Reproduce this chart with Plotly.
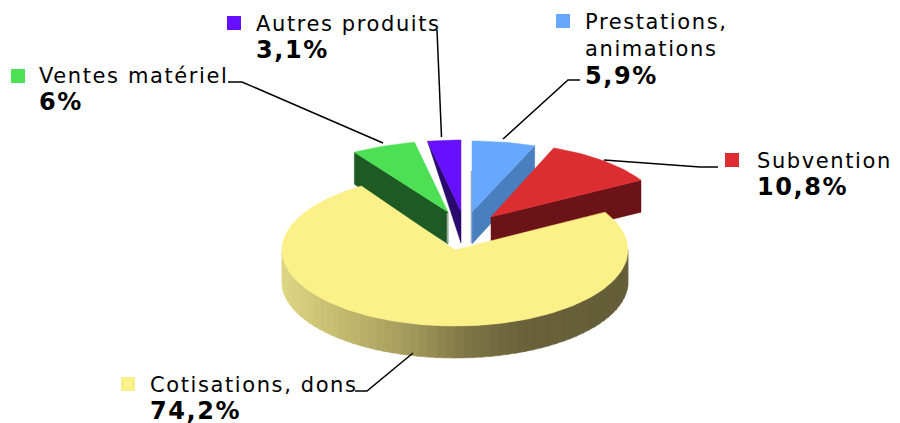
import math
import plotly.graph_objects as go

# Data
labels = ["Prestations,<br>animations", "Subvention", "Cotisations, dons", "Ventes matériel", "Autres produits"]
values = [5.9, 10.8, 74.2, 6.0, 3.1]

# Styles
top_colors = ["#66a8ff", "#dc2d30", "#fcf088", "#4de055", "#6610ff"]
wall_colors = ["#4a7fbf", "#6b1316", None, "#1e5a24", "#2a0a6e"]
offsets = [(17, -38), (36, -33), (0, 0), (-7, -38), (6, -39)]
slice_ry = [71, 74, 76, 71, 71]
wall_rim_depth = [30, 32, 0, 32, 0]
draw_order = [3, 4, 0, 1]

CX, CY, RX, DEPTH = 455, 250, 173, 32


def pt(deg, ox=0, oy=0, ry=76, dy=0):
    a = math.radians(deg)
    return CX + ox + RX * math.sin(a), CY + oy - ry * math.cos(a) + dy


def arc(a0, a1, ox=0, oy=0, ry=76, dy=0):
    n = max(2, int(abs(a1 - a0) / 1.5))
    return [pt(a0 + (a1 - a0) * i / n, ox, oy, ry, dy) for i in range(n + 1)]


def poly(points, color, lw=0.5):
    xs = [p[0] for p in points] + [points[0][0]]
    ys = [p[1] for p in points] + [points[0][1]]
    return go.Scatter(x=xs, y=ys, mode="lines", fill="toself", fillcolor=color,
                      line=dict(color=color, width=lw), hoverinfo="skip", showlegend=False)


def lerp_color(x):
    stops = [(282, (222, 214, 132)), (350, (192, 182, 108)), (415, (160, 150, 90)),
             (470, (125, 116, 68)), (525, (104, 97, 58)), (628, (100, 94, 56))]
    for (x0, c0), (x1, c1) in zip(stops, stops[1:]):
        if x <= x1:
            t = max(0, (x - x0) / (x1 - x0))
            return "rgb(%d,%d,%d)" % tuple(round(a + (b - a) * t) for a, b in zip(c0, c1))
    return "rgb(100,94,56)"


edges = [0]
for v in values:
    edges.append(edges[-1] + v / sum(values) * 360)

fig = go.Figure()

for i in draw_order:
    a0, a1 = edges[i], edges[i + 1]
    ox, oy = offsets[i]
    ry = slice_ry[i]
    apex = (CX + ox, CY + oy)
    apex_low = (apex[0], apex[1] + DEPTH)
    wall_angle = a1 if i in (0, 1) else a0
    rim = pt(wall_angle, ox, oy, ry)
    rim_low = (rim[0], rim[1] + wall_rim_depth[i])
    fig.add_trace(poly([apex, rim, rim_low, apex_low], wall_colors[i]))
    fig.add_trace(poly([apex] + arc(a0, a1, ox, oy, ry), top_colors[i]))

# thin lit edges of the exploded wedges
for i, shade, y0 in [(0, "#8fa9cc", 171), (3, "#9db09a", 213)]:
    ox, oy = offsets[i]
    fig.add_trace(go.Scatter(x=[CX + ox - 0.5, CX + ox - 0.5], y=[y0, CY + oy + DEPTH - 1], mode="lines",
                             line=dict(color=shade, width=1.5), hoverinfo="skip", showlegend=False))

# main slice side with shading
step = 3
for d in range(90, 270, step):
    pts = arc(d, d + step + 0.5) + arc(d + step + 0.5, d, dy=DEPTH)
    x_mid = pt(d + step / 2)[0]
    fig.add_trace(poly(pts, lerp_color(x_mid)))

a0, a1 = edges[2], edges[3]
fig.add_trace(poly([(CX, CY)] + arc(a0, a1), top_colors[2]))

# leader lines
leaders = [
    ([503, 568, 580], [139, 80, 80]),
    ([604, 700, 718], [160, 167, 167]),
    ([355, 367, 413], [391, 391, 353]),
    ([228, 242, 383], [82, 82, 143]),
    ([437, 441.5], [30, 137]),
]
for lx, ly in leaders:
    fig.add_trace(go.Scatter(x=lx, y=ly, mode="lines", line=dict(color="#000000", width=1.5),
                             hoverinfo="skip", showlegend=False))

# legend squares and texts
swatch_x = [563, 732, 128, 18, 234]
swatch_y = [21, 160, 384, 76, 23]
text_x = [584, 756, 149, 38, 255]
text_y = [9, 148, 372, 63, 11]
for i, lab in enumerate(labels):
    fig.add_trace(go.Scatter(x=[swatch_x[i]], y=[swatch_y[i]], mode="markers",
                             marker=dict(symbol="square", size=14, color=top_colors[i], line=dict(width=0)),
                             hoverinfo="skip", showlegend=False))
    pct = f"{values[i]:g}".replace(".", ",") + "%"
    fig.add_annotation(x=text_x[i], y=text_y[i], xref="x", yref="y", xanchor="left", yanchor="top",
                       align="left", showarrow=False,
                       text=f"{lab}<br><b><span style=\"font-size:24px\">{pct}</span></b>",
                       font=dict(family="DejaVu Sans", size=21, color="#000000"), borderpad=0)

fig.update_layout(width=900, height=423, margin=dict(l=0, r=0, t=0, b=0),
                  paper_bgcolor="#ffffff", plot_bgcolor="#ffffff", showlegend=False,
                  xaxis=dict(range=[0, 900], visible=False, fixedrange=True),
                  yaxis=dict(range=[423, 0], visible=False, fixedrange=True))
post = """
document.body.style.margin = '0';
document.querySelectorAll('.annotation-text').forEach(function (t) { t.style.letterSpacing = '1.6px'; });
"""
fig.write_html("out.html", config={"displayModeBar": False}, post_script=post)
